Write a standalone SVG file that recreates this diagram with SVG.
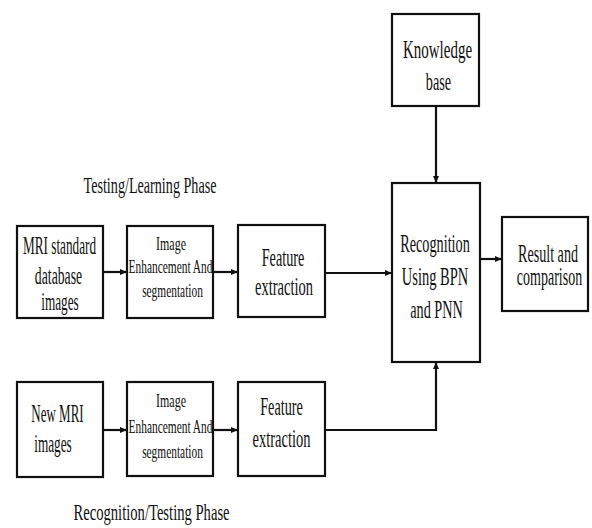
<svg xmlns="http://www.w3.org/2000/svg" width="592" height="528" viewBox="0 0 592 528">
<style>
.box{fill:#fff;stroke:#111;stroke-width:2.2}
text{font-family:"Liberation Serif","Times New Roman",serif;fill:#111;text-anchor:middle}
.t{font-size:25px}
.s{font-size:19px}
.l{font-size:24px}
.c{stroke:#111;stroke-width:2.2;fill:none}
</style>
<defs>
<marker id="ah" markerWidth="7" markerHeight="6" refX="7" refY="3" orient="auto" markerUnits="userSpaceOnUse">
<path d="M0,0 L7,3 L0,6 Z" fill="#111"/>
</marker>
</defs>
<rect width="592" height="528" fill="#fff"/>
<g id="connectors">
<line class="c" x1="103" y1="272" x2="127" y2="272" marker-end="url(#ah)"/>
<line class="c" x1="213" y1="272" x2="238" y2="272" marker-end="url(#ah)"/>
<line class="c" x1="325" y1="273" x2="392" y2="273" marker-end="url(#ah)"/>
<line class="c" x1="436" y1="106" x2="436" y2="183" marker-end="url(#ah)"/>
<line class="c" x1="480" y1="259" x2="502" y2="259" marker-end="url(#ah)"/>
<line class="c" x1="103" y1="430" x2="127" y2="430" marker-end="url(#ah)"/>
<line class="c" x1="213" y1="430" x2="238" y2="430" marker-end="url(#ah)"/>
<polyline class="c" points="325,430 436,430 436,362" marker-end="url(#ah)"/>
</g>
<g id="label-testing">
<text class="l" transform="matrix(0.59,0,0,1,150,193)">Testing/Learning Phase</text>
</g>
<g id="label-recognition">
<text class="l" transform="matrix(0.61,0,0,1,151.5,520)">Recognition/Testing Phase</text>
</g>
<g id="knowledge">
<rect class="box" x="392" y="14" width="87" height="92"/>
<text class="t" transform="matrix(0.6,0,0,1,437.5,58)">Knowledge</text>
<text class="t" transform="matrix(0.57,0,0,1,438.5,90)">base</text>
</g>
<g id="mri-db">
<rect class="box" x="17" y="226" width="86" height="92"/>
<text class="t" transform="matrix(0.53,0,0,1,59.5,254)">MRI standard</text>
<text class="t" transform="matrix(0.55,0,0,1,58.5,284)">database</text>
<text class="t" transform="matrix(0.53,0,0,1,60,310)">images</text>
</g>
<g id="enh1">
<rect class="box" x="127" y="226" width="86" height="92"/>
<text class="s" transform="matrix(0.63,0,0,1,171,250)">Image</text>
<text class="s" transform="matrix(0.6,0,0,1,170.5,273)">Enhancement And</text>
<text class="s" transform="matrix(0.6,0,0,1,172.5,297)">segmentation</text>
</g>
<g id="feat1">
<rect class="box" x="238" y="225" width="87" height="92"/>
<text class="t" transform="matrix(0.57,0,0,1,283,266)">Feature</text>
<text class="t" transform="matrix(0.58,0,0,1,284,295)">extraction</text>
</g>
<g id="recognition">
<rect class="box" x="392" y="183" width="88" height="179"/>
<text class="t" transform="matrix(0.57,0,0,1,435,252)">Recognition</text>
<text class="t" transform="matrix(0.58,0,0,1,435,285)">Using BPN</text>
<text class="t" transform="matrix(0.57,0,0,1,436.5,318)">and PNN</text>
</g>
<g id="result">
<rect class="box" x="502" y="217" width="86" height="94"/>
<text class="t" transform="matrix(0.565,0,0,1,548,262)">Result and</text>
<text class="t" transform="matrix(0.56,0,0,1,549.5,285)">comparison</text>
</g>
<g id="mri-new">
<rect class="box" x="17" y="382" width="86" height="95"/>
<text class="t" transform="matrix(0.52,0,0,1,57.5,422)">New MRI</text>
<text class="t" transform="matrix(0.53,0,0,1,53,452)">images</text>
</g>
<g id="enh2">
<rect class="box" x="127" y="382" width="86" height="94"/>
<text class="s" transform="matrix(0.63,0,0,1,171,407)">Image</text>
<text class="s" transform="matrix(0.6,0,0,1,170.5,433)">Enhancement And</text>
<text class="s" transform="matrix(0.6,0,0,1,172.5,458)">segmentation</text>
</g>
<g id="feat2">
<rect class="box" x="238" y="382" width="87" height="94"/>
<text class="t" transform="matrix(0.57,0,0,1,281.5,415)">Feature</text>
<text class="t" transform="matrix(0.58,0,0,1,281.5,447)">extraction</text>
</g>
</svg>
